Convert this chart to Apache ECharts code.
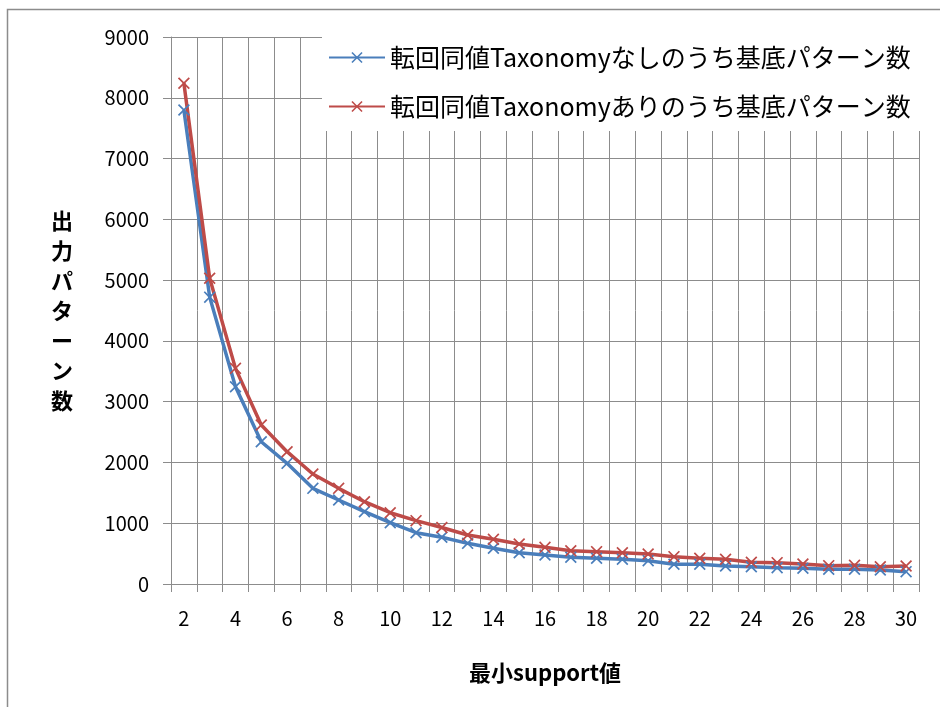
<!DOCTYPE html>
<html>
<head>
<meta charset="utf-8">
<script src="https://cdn.jsdelivr.net/npm/echarts@6/dist/echarts.min.js"></script>
<style>
  html, body { margin: 0; padding: 0; background: #fff; }
  #chart { width: 940px; height: 707px; }
</style>
</head>
<body>
<div id="chart"></div>
<script>
const minSupport = ['2','3','4','5','6','7','8','9','10','11','12','13','14','15','16','17','18','19','20','21','22','23','24','25','26','27','28','29','30']
const withoutTaxonomy = [7800, 4720, 3245, 2341, 1985, 1574, 1382, 1190, 1009, 844, 768, 669, 587, 515, 477, 439, 423, 406, 384, 324, 324, 296, 285, 269, 258, 242, 242, 230, 203]
const withTaxonomy = [8240, 5030, 3548, 2616, 2177, 1810, 1574, 1354, 1173, 1042, 930, 806, 735, 658, 603, 548, 532, 515, 494, 450, 423, 406, 357, 351, 329, 302, 307, 285, 296]
const seriesNames = ['転回同値Taxonomyなしのうち基底パターン数', '転回同値Taxonomyありのうち基底パターン数']

const cross = 'path://M0,1L1,0L5,4L9,0L10,1L6,5L10,9L9,10L5,6L1,10L0,9L4,5Z'
const gridColor = '#8c8c8c'
const jp = '"Noto Sans CJK JP", "Open Sans", sans-serif'

const chart = echarts.init(document.getElementById('chart'))

function lineSeries(name, data, color) {
  return {
    name: name,
    type: 'line',
    data: data,
    symbol: cross,
    symbolSize: 12,
    showSymbol: true,
    lineStyle: { color: color, width: 3.5 },
    itemStyle: { color: color },
    z: 3
  }
}

chart.setOption({
  animation: false,
  textStyle: { fontFamily: jp },
  grid: { left: 171, top: 37, right: 21, bottom: 123 },
  legend: {
    orient: 'vertical',
    left: 322,
    top: 37,
    backgroundColor: '#fff',
    padding: [8, 20, 12, 6],
    itemGap: 24,
    itemWidth: 56,
    itemHeight: 14,
    textStyle: { fontSize: 25, color: '#000', fontFamily: jp },
    data: seriesNames,
    z: 10
  },
  xAxis: {
    type: 'category',
    data: minSupport,
    boundaryGap: true,
    name: '最小support値',
    nameLocation: 'middle',
    nameGap: 78,
    nameTextStyle: { fontSize: 22, fontWeight: 'bold', color: '#000', fontFamily: jp },
    axisLine: { lineStyle: { color: gridColor, width: 1 } },
    axisTick: { show: true, interval: 0, length: 8, lineStyle: { color: gridColor } },
    axisLabel: { interval: 1, fontSize: 20, color: '#000', margin: 24 },
    splitLine: { show: true, interval: 0, lineStyle: { color: gridColor, width: 1 } }
  },
  yAxis: {
    type: 'value',
    min: 0,
    max: 9000,
    interval: 1000,
    name: '出\n力\nパ\nタ\nー\nン\n数',
    nameLocation: 'middle',
    nameRotate: 0,
    nameGap: 98,
    nameTextStyle: { fontSize: 22, fontWeight: 'bold', color: '#000', lineHeight: 30, fontFamily: jp },
    axisLine: { show: true, lineStyle: { color: gridColor, width: 1 } },
    axisTick: { show: true, length: 8, lineStyle: { color: gridColor } },
    axisLabel: { fontSize: 20, color: '#000', margin: 22, formatter: v => String(v) },
    splitLine: { show: true, lineStyle: { color: gridColor, width: 1 } }
  },
  graphic: [
    {
      type: 'rect',
      shape: { x: 7.5, y: 9.5, width: 1000, height: 1000 },
      style: { fill: 'none', stroke: '#8c8c8c', lineWidth: 1.5 },
      silent: true
    }
  ],
  series: [
    lineSeries(seriesNames[0], withoutTaxonomy, '#4a7ebb'),
    lineSeries(seriesNames[1], withTaxonomy, '#be4b48')
  ]
})
</script>
</body>
</html>
